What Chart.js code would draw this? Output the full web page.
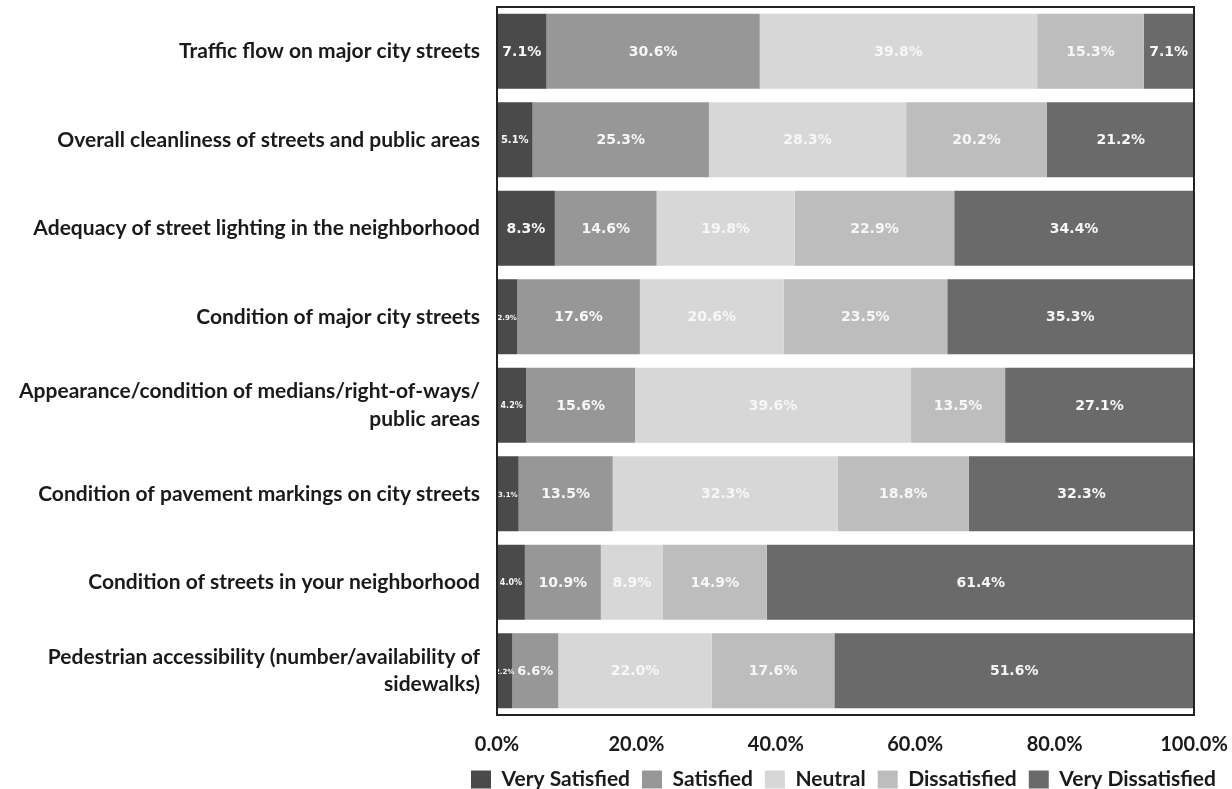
<!DOCTYPE html>
<html>
<head>
<meta charset="utf-8">
<script src="https://cdn.jsdelivr.net/npm/chart.js@4.4.0/dist/chart.umd.min.js"></script>
<style>
  html, body { margin: 0; padding: 0; background: #ffffff; }
  #wrap { width: 1232px; height: 789px; position: relative; }
</style>
</head>
<body>
<div id="wrap"><canvas id="chart"></canvas></div>
<script>
// Survey items (top to bottom)
const categories = [
  'Traffic flow on major city streets',
  'Overall cleanliness of streets and public areas',
  'Adequacy of street lighting in the neighborhood',
  'Condition of major city streets',
  ['Appearance/condition of medians/right-of-ways/', 'public areas'],
  'Condition of pavement markings on city streets',
  'Condition of streets in your neighborhood',
  ['Pedestrian accessibility (number/availability of', 'sidewalks)']
];

// Share of responses (%) per rating
const verySatisfied    = [7.1, 5.1, 8.3, 2.9, 4.2, 3.1, 4.0, 2.2];
const satisfied        = [30.6, 25.3, 14.6, 17.6, 15.6, 13.5, 10.9, 6.6];
const neutral          = [39.8, 28.3, 19.8, 20.6, 39.6, 32.3, 8.9, 22.0];
const dissatisfied     = [15.3, 20.2, 22.9, 23.5, 13.5, 18.8, 14.9, 17.6];
const veryDissatisfied = [7.1, 21.2, 34.4, 35.3, 27.1, 32.3, 61.4, 51.6];

const seriesNames = ['Very Satisfied', 'Satisfied', 'Neutral', 'Dissatisfied', 'Very Dissatisfied'];
const seriesColors = ['#4a4a4a', '#979797', '#d7d7d7', '#bdbdbd', '#6a6a6a'];

const xTicks = [0, 20, 40, 60, 80, 100];

const seriesData = [verySatisfied, satisfied, neutral, dissatisfied, veryDissatisfied];

// Frame around the plotting area
const framePlugin = {
  id: 'frame',
  afterDraw(chart) {
    const a = chart.chartArea;
    const ctx = chart.ctx;
    ctx.save();
    ctx.strokeStyle = '#222222';
    ctx.lineWidth = 2;
    ctx.strokeRect(a.left, a.top, a.right - a.left, a.bottom - a.top);
    ctx.restore();
  }
};

// Percentage labels centred in each bar segment
const barLabelPlugin = {
  id: 'barLabels',
  afterDatasetsDraw(chart) {
    const ctx = chart.ctx;
    ctx.save();
    ctx.textAlign = 'center';
    ctx.textBaseline = 'middle';
    ctx.fillStyle = '#f7f7f7';
    chart.data.datasets.forEach((ds, di) => {
      const meta = chart.getDatasetMeta(di);
      meta.data.forEach((bar, i) => {
        const v = ds.data[i];
        const w = Math.abs(bar.x - bar.base);
        let size = 14;
        if (w < 48) size = Math.max(7, Math.min(14, Math.floor(w / 3.4)));
        ctx.font = 'bold ' + size + 'px "DejaVu Sans"';
        const cx = (bar.x + bar.base) / 2;
        ctx.fillText(v.toFixed(1) + '%', cx, bar.y + 1);
      });
    });
    ctx.restore();
  }
};

new Chart(document.getElementById('chart'), {
  type: 'bar',
  data: {
    labels: categories,
    datasets: seriesData.map((d, k) => ({
      label: seriesNames[k],
      data: d,
      backgroundColor: seriesColors[k],
      borderWidth: 0,
      barPercentage: 0.85,
      categoryPercentage: 1.0
    }))
  },
  options: {
    indexAxis: 'y',
    responsive: true,
    maintainAspectRatio: false,
    animation: false,
    layout: { padding: { top: 7, right: 4, bottom: -11, left: 0 } },
    plugins: {
      legend: {
        position: 'bottom',
        align: 'end',
        labels: {
          boxWidth: 20,
          boxHeight: 18,
          padding: 12,
          color: '#1a1a1a',
          font: { family: 'Lato', size: 21, weight: 'bold' }
        }
      },
      tooltip: { enabled: false }
    },
    scales: {
      x: {
        stacked: true,
        min: 0,
        max: 100,
        afterBuildTicks(scale) { scale.ticks = xTicks.map(v => ({ value: v })); },
        afterFit(scale) {
          scale.height = 42;
          scale.paddingLeft = 0;
          scale.paddingRight = 38;
        },
        grid: { display: false, drawTicks: false },
        border: { display: false },
        ticks: {
          padding: 18,
          color: '#1a1a1a',
          font: { family: 'Lato', size: 20, weight: 'bold' },
          callback: v => v.toFixed(1) + '%'
        }
      },
      y: {
        stacked: true,
        afterFit(scale) {
          scale.width = 497;
          scale.paddingTop = 0;
          scale.paddingBottom = 0;
        },
        grid: { display: false, drawTicks: false },
        border: { display: false },
        ticks: {
          padding: 17,
          color: '#1a1a1a',
          font: { family: 'Lato', size: 21, weight: 'bold', lineHeight: 1.3 }
        }
      }
    }
  },
  plugins: [barLabelPlugin, framePlugin]
});
</script>
</body>
</html>
